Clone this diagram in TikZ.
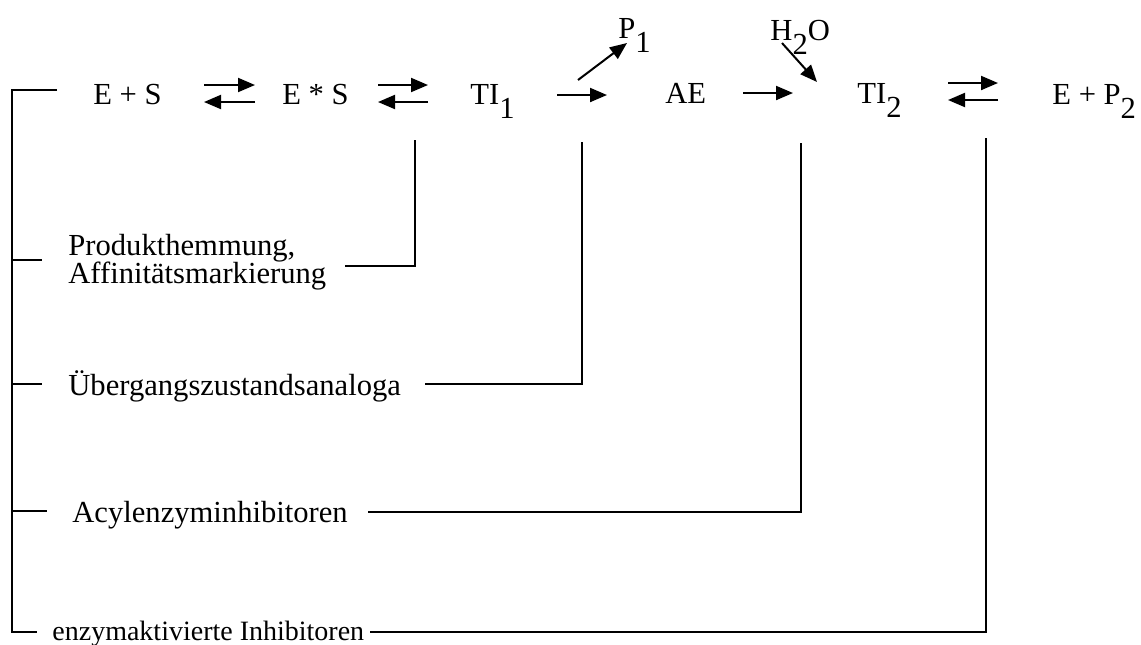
\documentclass[tikz,border=0pt]{standalone}
\usepackage{fontspec}
\setmainfont{Liberation Serif}
\usetikzlibrary{arrows.meta}
\newcommand\lowsub[1]{\raisebox{-7pt}{#1}}
\begin{document}
\begin{tikzpicture}[x=0.5pt,y=-0.5pt,
  lbl/.style={inner sep=0pt, anchor=base west, font=\fontsize{15.3}{18}\selectfont},
  ln/.style={line width=0.9pt},
  arr/.style={line width=1pt, -{Triangle[length=8.5pt,width=7pt]}}]
\useasboundingbox (0,0) rectangle (1141,644);
% reaction row
\node[lbl] (ES)  at (93,104)  {E + S};
\node[lbl] (ESc) at (282,104) {E * S};
\node[lbl] (TIa) at (470,104) {TI\lowsub{1}};
\node[lbl] (AE)  at (665,103) {AE};
\node[lbl] (TIb) at (857,103) {TI\lowsub{2}};
\node[lbl] (EP)  at (1052,104) {E + P\lowsub{2}};
\node[lbl] (P1)  at (618,38)  {P\lowsub{1}};
\node[lbl] (HO)  at (770,40)  {H\lowsub{2}O};
% arrow end points
\coordinate (a1l) at (204,85);  \coordinate (a1r) at (255,85);
\coordinate (b1l) at (204,102); \coordinate (b1r) at (255,102);
\coordinate (a2l) at (378,85);  \coordinate (a2r) at (428,85);
\coordinate (b2l) at (378,102); \coordinate (b2r) at (428,102);
\coordinate (a3l) at (557,95);  \coordinate (a3r) at (607,95);
\coordinate (p1s) at (578,80);  \coordinate (p1e) at (627,43);
\coordinate (a5l) at (743,93);  \coordinate (a5r) at (793,93);
\coordinate (hos) at (782,43);  \coordinate (hoe) at (817,82);
\coordinate (a7l) at (948,83);  \coordinate (a7r) at (998,83);
\coordinate (b7l) at (948,100); \coordinate (b7r) at (998,100);
\draw[arr] (a1l) -- (a1r);
\draw[arr] (b1r) -- (b1l);
\draw[arr] (a2l) -- (a2r);
\draw[arr] (b2r) -- (b2l);
\draw[arr] (a3l) -- (a3r);
\draw[arr] (p1s) -- (p1e);
\draw[arr] (a5l) -- (a5r);
\draw[arr] (hos) -- (hoe);
\draw[arr] (a7l) -- (a7r);
\draw[arr] (b7r) -- (b7l);
% labels
\node[lbl] (lProdA) at (68,255) {Produkthemmung,};
\node[lbl] (lProdB) at (68,283) {Affinitätsmarkierung};
\node[lbl] (lUeb)   at (68,395) {Übergangszustandsanaloga};
\node[lbl] (lAcyl)  at (72,522) {Acylenzyminhibitoren};
\node[lbl, font=\fontsize{14}{17}\selectfont] (lEnz) at (52,640) {enzymaktivierte Inhibitoren};
% bracket
\coordinate (sTop) at (57,90);
\coordinate (sCorner) at (12,90);
\coordinate (sBot) at (12,632);
\coordinate (sBotEnd) at (37,632);
\draw[ln] (sTop) -- (sCorner) -- (sBot) -- (sBotEnd);
\coordinate (t1) at (12,260); \coordinate (t1e) at (42,260);
\coordinate (t2) at (12,384); \coordinate (t2e) at (42,384);
\coordinate (t3) at (12,511); \coordinate (t3e) at (47,511);
\draw[ln] (t1) -- (t1e);
\draw[ln] (t2) -- (t2e);
\draw[ln] (t3) -- (t3e);
% connectors to reaction steps
\coordinate (u1) at (415,140); \coordinate (h1) at (345,266);
\coordinate (u2) at (582,142); \coordinate (h2) at (425,384);
\coordinate (u3) at (801,143); \coordinate (h3) at (368,512);
\coordinate (u4) at (986,138); \coordinate (h4) at (370,632);
\draw[ln] (h1) -| (u1);
\draw[ln] (h2) -| (u2);
\draw[ln] (h3) -| (u3);
\draw[ln] (h4) -| (u4);
\end{tikzpicture}
\end{document}
